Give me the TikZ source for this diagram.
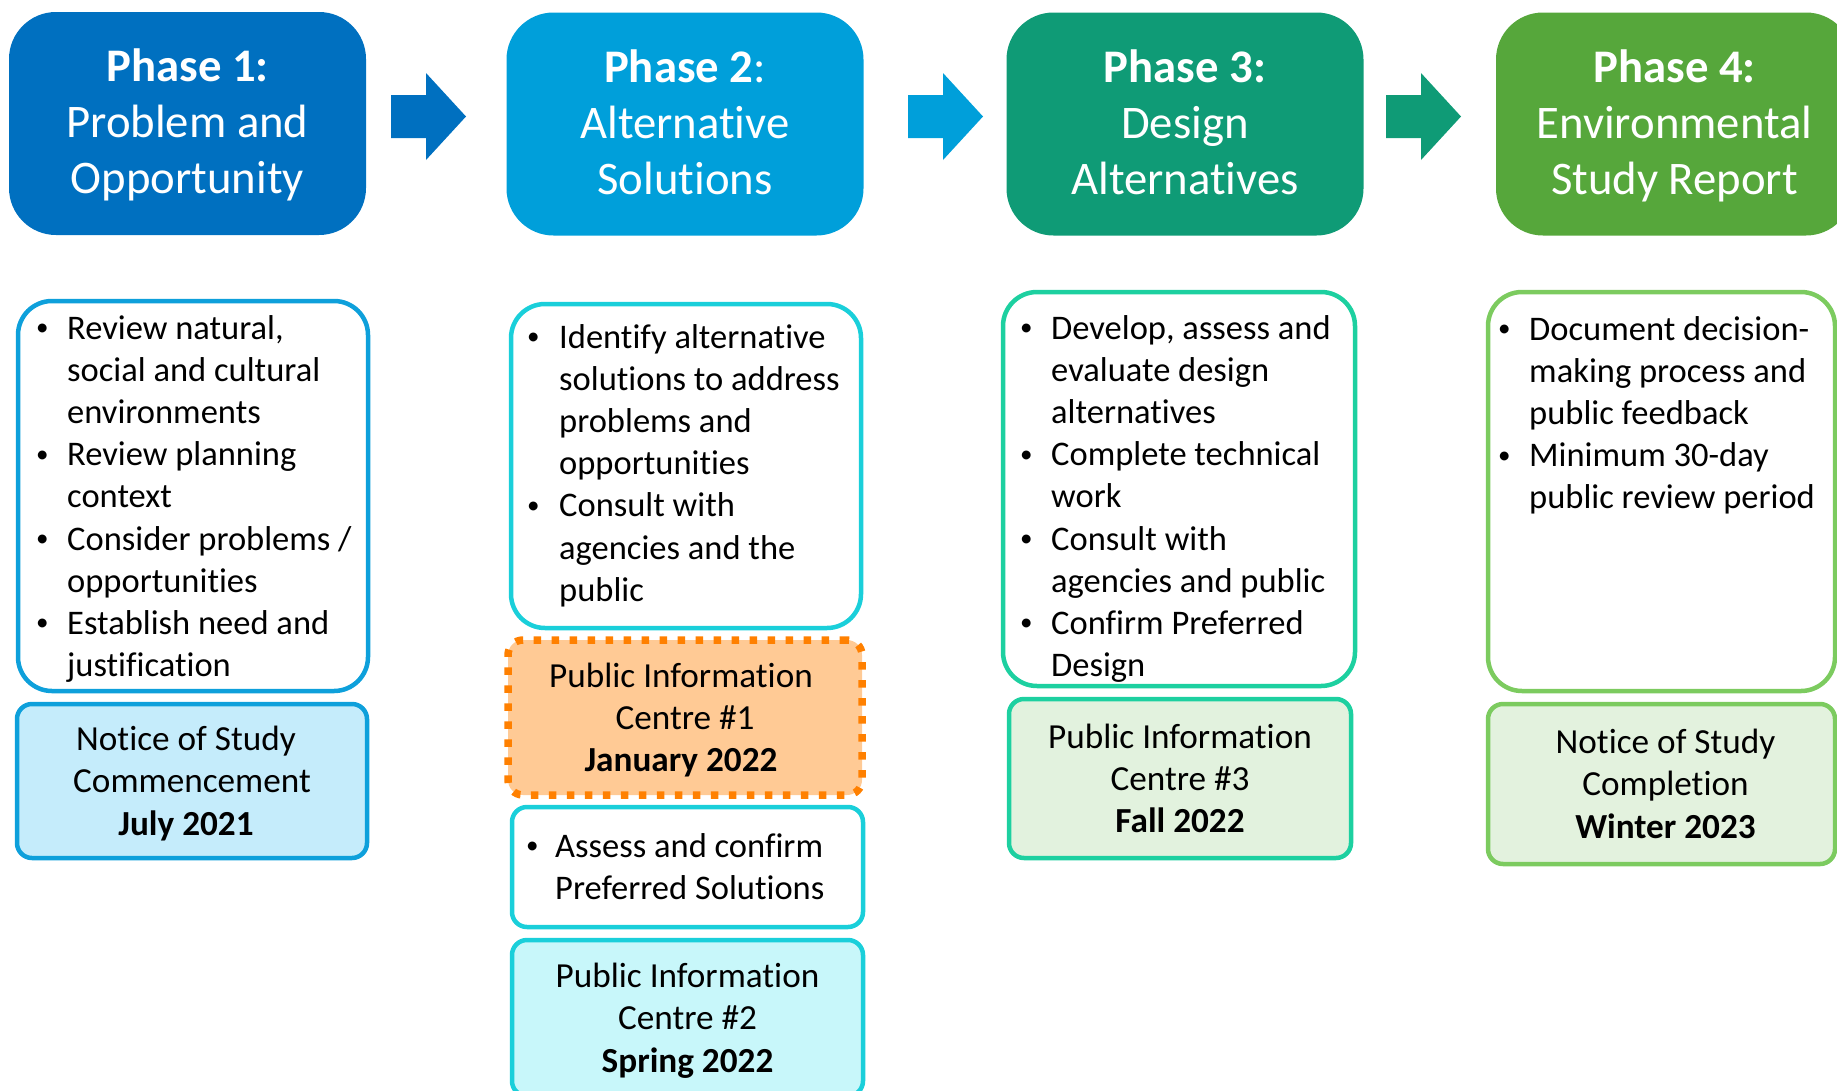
\documentclass[tikz,border=0pt]{standalone}
\usepackage{fontspec}
\setmainfont{Carlito}[Ligatures=NoCommon]

\definecolor{phaseone}{HTML}{0070C0}
\definecolor{phasetwo}{HTML}{009FDA}
\definecolor{phasethree}{HTML}{0F9B76}
\definecolor{phasefour}{HTML}{56A73B}
\definecolor{lineone}{HTML}{0EA0DB}
\definecolor{fillone}{HTML}{C5ECFB}
\definecolor{linetwo}{HTML}{1ACFDA}
\definecolor{filltwo}{HTML}{C8F7FA}
\definecolor{picline}{HTML}{FF8000}
\definecolor{picfill}{HTML}{FFCA95}
\definecolor{linethree}{HTML}{1DD0A0}
\definecolor{fillthree}{HTML}{E2F2DE}
\definecolor{linefour}{HTML}{7CCB5F}
\definecolor{fillfour}{HTML}{E3F2DE}

\newcommand{\bul}{\raisebox{3.5pt}{\fontsize{25}{25}\selectfont•}}
\newcommand{\topline}[1]{\rule{0pt}{#1}}

\tikzset{
  phase/.style={rounded corners=47pt,minimum width=357pt,minimum height=223pt,
    inner sep=0,text=white,align=center,font=\fontsize{46.7}{56}\selectfont},
  itembox/.style={draw,line width=4.5pt,rounded corners=34pt,inner sep=0},
  datebox/.style={draw,line width=4.5pt,rounded corners=15pt,inner sep=0,
    align=center,font=\fontsize{35.2}{42.2}\selectfont},
  items/.style={anchor=base west,inner sep=0,font=\fontsize{34.5}{42.2}\selectfont},
}

\begin{document}
\begin{tikzpicture}[x=1pt,y=-1pt]
	\path[use as bounding box,clip] (0,0) rectangle (1837,1090);
	% phases
	\node[phase,fill=phaseone] (p1) at (187.5,123.5) {\topline{45pt}\textbf{Phase 1:}\\Problem and\\Opportunity\strut};
	\node[phase,fill=phasetwo] (p2) at (685,124) {\topline{45pt}\textbf{Phase 2}:\\Alternative\\Solutions\strut};
	\node[phase,fill=phasethree] (p3) at (1185,124) {\topline{45pt}\textbf{Phase 3:}\\Design\\Alternatives\strut};
	\node[phase,fill=phasefour] (p4) at (1674.5,124) {\topline{45pt}\textbf{Phase 4:}\\Environmental\\Study Report\strut};
	\foreach \x/\c in {391/phaseone,908/phasetwo,1386/phasethree}
		\fill[\c] (\x,95) -- ++(35,0) -- ++(0,-22) -- ++(40,43.5) -- ++(-40,43.5) -- ++(0,-22) -- ++(-35,0) -- cycle;
	% phase 1
	\node[itembox,draw=lineone,minimum width=350pt,minimum height=390pt] (b1) at (193,496) {};
	\node[items] (t1) at (36,339) {\begin{tabular}[t]{@{}p{31pt}@{}l@{}}
		\bul&Review natural,\\&social and cultural\\&environments\\
		\bul&Review planning\\&context\\
		\bul&Consider problems /\\&opportunities\\
		\bul&Establish need and\\&justification\end{tabular}};
	\node[datebox,draw=lineone,fill=fillone,minimum width=350pt,minimum height=154pt] (n1) at (192,781)
		{\topline{36.5pt}Notice of Study\hspace*{12pt}\\Commencement\hspace*{12pt}\\\textbf{July 2021}\hspace*{12pt}\strut};
	% phase 2
	\node[itembox,draw=linetwo,minimum width=350pt,minimum height=324pt] (b2) at (686,466) {};
	\node[items] (t2) at (527,348) {\begin{tabular}[t]{@{}p{32pt}@{}l@{}}
		\bul&Identify alternative\\&solutions to address\\&problems and\\&opportunities\\
		\bul&Consult with\\&agencies and the\\&public\end{tabular}};
	\node[datebox,draw=picline,fill=picfill,line width=7.5pt,dash pattern=on 7.5pt off 10.5pt,
		minimum width=354pt,minimum height=155pt] (pic1) at (685,717.5)
		{\topline{36.5pt}Public Information\hspace*{8pt}\\Centre \#1\hspace*{8pt}\\\textbf{January 2022}\hspace*{8pt}\strut};
	\node[itembox,draw=linetwo,rounded corners=15pt,minimum width=351pt,minimum height=120pt] (b2b) at (687.5,867) {};
	\node[items] (t2b) at (526,857) {\begin{tabular}[t]{@{}p{29pt}@{}l@{}}
		\bul&Assess and confirm\\&Preferred Solutions\end{tabular}};
	\node[datebox,draw=linetwo,fill=filltwo,minimum width=351pt,minimum height=156pt] (pic2) at (687.5,1018)
		{\topline{36.5pt}Public Information\\Centre \#2\\\textbf{Spring 2022}\strut};
	% phase 3
	\node[itembox,draw=linethree,minimum width=352pt,minimum height=394pt] (b3) at (1179,489) {};
	\node[items] (t3) at (1020,339) {\begin{tabular}[t]{@{}p{31pt}@{}l@{}}
		\bul&Develop, assess and\\&evaluate design\\&alternatives\\
		\bul&Complete technical\\&work\\
		\bul&Consult with\\&agencies and public\\
		\bul&Confirm Preferred\\&Design\end{tabular}};
	\node[datebox,draw=linethree,fill=fillthree,minimum width=342pt,minimum height=159pt] (pic3) at (1180,778.5)
		{\topline{36.5pt}Public Information\\Centre \#3\\\textbf{Fall 2022}\strut};
	% phase 4
	\node[itembox,draw=linefour,minimum width=347pt,minimum height=399pt] (b4) at (1661.5,491.5) {};
	\node[items] (t4) at (1498,340) {\begin{tabular}[t]{@{}p{31pt}@{}l@{}}
		\bul&Document decision-\\&making process and\\&public feedback\\
		\bul&Minimum 30-day\\&public review period\end{tabular}};
	\node[datebox,draw=linefour,fill=fillfour,minimum width=347pt,minimum height=160pt] (n4) at (1661.5,784)
		{\topline{36.5pt}\hspace*{8pt}Notice of Study\\\hspace*{8pt}Completion\\\hspace*{8pt}\textbf{Winter 2023}\strut};
\end{tikzpicture}
\end{document}
